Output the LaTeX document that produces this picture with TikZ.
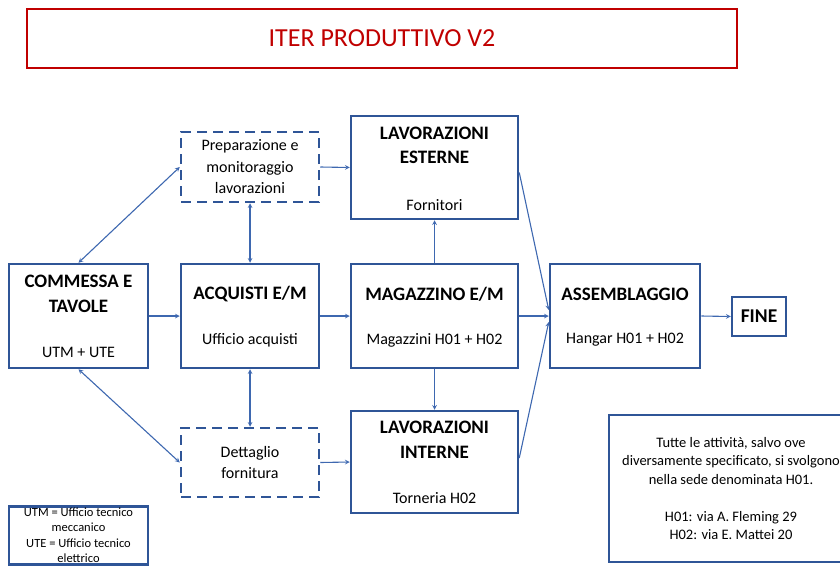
\documentclass[tikz,border=0pt]{standalone}
\usepackage{fontspec}
\setmainfont{Carlito}
\usetikzlibrary{positioning}
\definecolor{boxblue}{HTML}{2F5597}
\definecolor{lineblue}{HTML}{3E68B0}
\definecolor{titlered}{HTML}{C00000}
\begin{document}
\begin{tikzpicture}[x=1pt,y=-1pt]
           \tikzstyle{stage} = [rectangle, draw=boxblue, line width=2.5pt, inner sep=0pt]
           \tikzstyle{plan} = [rectangle, draw=boxblue, line width=2.5pt, dash pattern=on 10pt off 6pt, align=center, font=\fontsize{16}{21.5}\selectfont]
           \tikzstyle{head} = [align=center, inner sep=0pt, font=\fontsize{19}{24.5}\selectfont\bfseries]
           \tikzstyle{sub} = [inner sep=0pt, font=\fontsize{16}{20}\selectfont]
           \tikzstyle{arrow} = [lineblue, line width=1.1pt, ->, >=stealth]
           \tikzstyle{both} = [lineblue, line width=1.1pt, <->, >=stealth]

            \path[use as bounding box, clip] (0,0) rectangle (840,565);

            \node (title) [rectangle, draw=titlered, line width=2.5pt, minimum width=710pt, minimum height=59pt, text=titlered, font=\fontsize{26}{30}\selectfont] at (382,38.5) {ITER PRODUTTIVO V2};

            \node (com) [stage, minimum width=139pt, minimum height=104pt] at (78.5,316) {};
            \node (acq) [stage, minimum width=138pt, minimum height=104pt] at (250,316) {};
            \node (mag) [stage, minimum width=167pt, minimum height=104pt] at (434.5,316) {};
            \node (ass) [stage, minimum width=150pt, minimum height=104pt] at (625,316) {};
            \node (fine) [stage, minimum width=54pt, minimum height=39pt, font=\fontsize{19.5}{24}\selectfont\bfseries] at (759,316.5) {FINE};
            \node (lavest) [stage, minimum width=167pt, minimum height=103pt] at (434.5,167.5) {};
            \node (lavint) [stage, minimum width=167pt, minimum height=102pt] at (434.5,462) {};
            \node (prep) [plan, minimum width=138pt, minimum height=70pt] at (250,167) {Preparazione e\\monitoraggio\\lavorazioni};
            \node (dett) [plan, minimum width=138pt, minimum height=69pt] at (250,462.5) {Dettaglio\\fornitura};

            \node (comT) [head] at (78.5,294) {COMMESSA E\\TAVOLE};
            \node (comS) [sub] at (78.5,352) {UTM + UTE};
            \node (acqT) [head] at (250,294) {ACQUISTI E/M};
            \node (acqS) [sub] at (250,340) {Ufficio acquisti};
            \node (magT) [head] at (434.5,294) {MAGAZZINO E/M};
            \node (magS) [sub] at (434.5,340) {Magazzini H01 + H02};
            \node (assT) [head] at (625,294) {ASSEMBLAGGIO};
            \node (assS) [sub] at (625,340) {Hangar H01 + H02};
            \node (lavestT) [head] at (434.5,145.5) {LAVORAZIONI\\ESTERNE};
            \node (lavestS) [sub] at (434.5,205) {Fornitori};
            \node (lavintT) [head] at (434.5,440) {LAVORAZIONI\\INTERNE};
            \node (lavintS) [sub] at (434.5,498) {Torneria H02};

            \node (legend) [rectangle, draw=boxblue, line width=2.5pt, anchor=north, minimum width=139pt, inner ysep=1.5pt, align=center, font=\fontsize{12.5}{15.5}\selectfont] at (78.5,505) {UTM = Ufficio tecnico\\meccanico\\UTE = Ufficio tecnico\\elettrico};
            \node (note) [rectangle, draw=boxblue, line width=2.5pt, minimum width=244pt, minimum height=147pt, align=center, font=\fontsize{14.5}{18.5}\selectfont] at (731,488.5) {Tutte le attività, salvo ove\\diversamente specificato, si svolgono\\nella sede denominata H01.\\[18.5pt]H01: via A. Fleming 29\\H02: via E. Mattei 20};

            \draw[both] (com.north) -- (prep.west);
            \draw[both] (com.south) -- (dett.west);
            \draw[both] (acq.north) -- (prep.south);
            \draw[both] (acq.south) -- (dett.north);
            \draw[arrow] (prep.east) -- (lavest.west);
            \draw[arrow] (dett.east) -- (lavint.west);
            \draw[arrow] (com.east) -- (acq.west);
            \draw[arrow] (acq.east) -- (mag.west);
            \draw[arrow] (mag.north) -- (lavest.south);
            \draw[arrow] (mag.south) -- (lavint.north);
            \draw[arrow] (mag.east) -- (ass.west);
            \draw[arrow] ([yshift=-5pt]lavest.east) -- ([yshift=6pt]ass.west);
            \draw[arrow] ([yshift=4pt]lavint.east) -- ([yshift=-6pt]ass.west);
            \draw[arrow] (ass.east) -- (fine.west);
       \end{tikzpicture}
\end{document}
